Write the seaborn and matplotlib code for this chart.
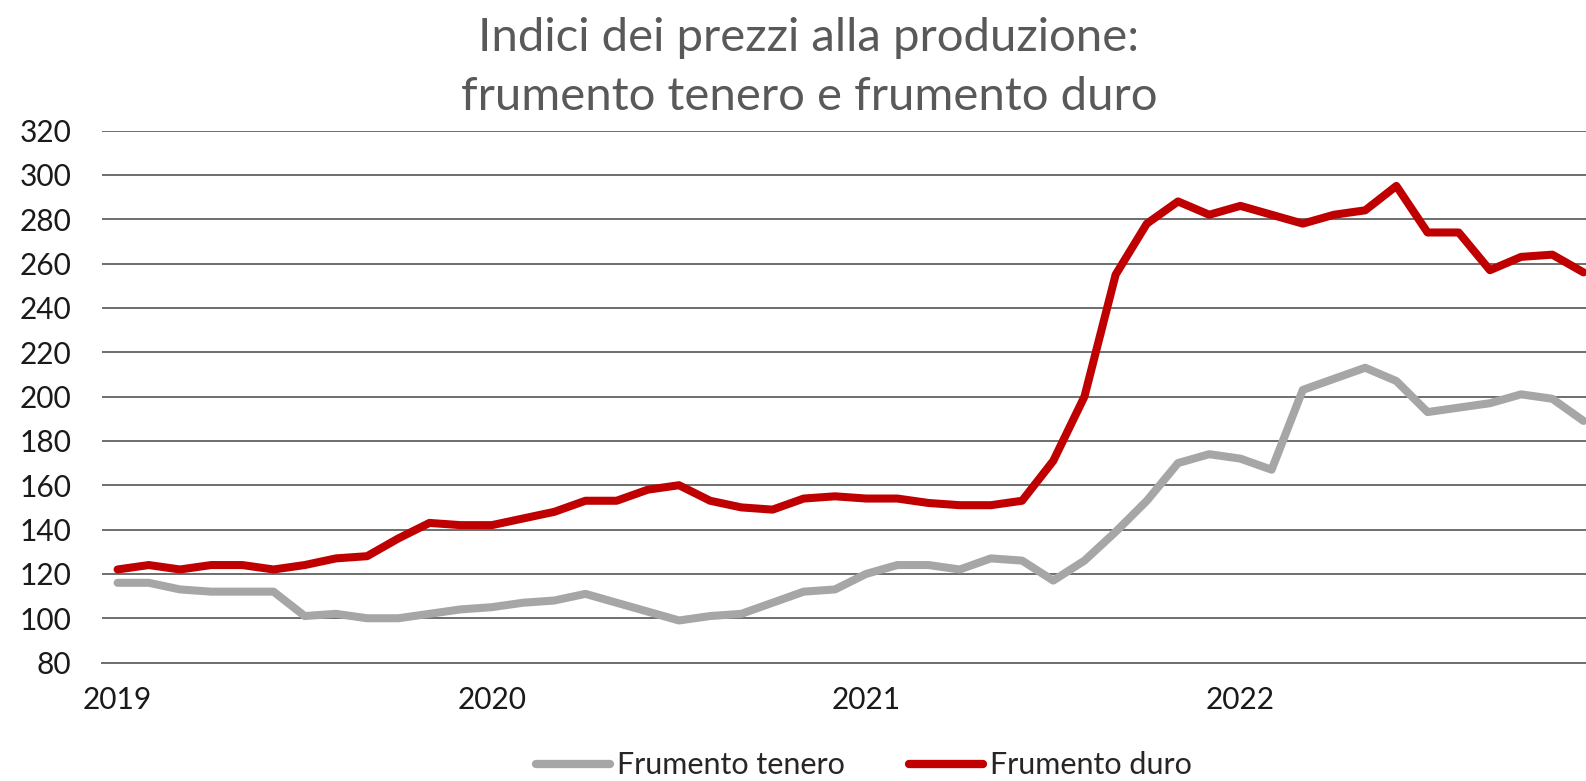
import pandas as pd
import matplotlib
matplotlib.use("Agg")
import matplotlib.pyplot as plt
import seaborn as sns
from matplotlib.lines import Line2D
from matplotlib.ticker import FixedLocator, NullFormatter, FixedFormatter

# monthly indices Jan 2019 - Dec 2022
mesi = list(range(48))
anni = ["2019", "2020", "2021", "2022"]

tenero = [116, 116, 113, 112, 112, 112, 101, 102, 100, 100, 102, 104,
          105, 107, 108, 111, 107, 103, 99, 101, 102, 107, 112, 113,
          120, 124, 124, 122, 127, 126, 117, 126, 139, 153, 170, 174,
          172, 167, 203, 208, 213, 207, 193, 195, 197, 201, 199, 189]

duro = [122, 124, 122, 124, 124, 122, 124, 127, 128, 136, 143, 142,
        142, 145, 148, 153, 153, 158, 160, 153, 150, 149, 154, 155,
        154, 154, 152, 151, 151, 153, 171, 200, 255, 278, 288, 282,
        286, 282, 278, 282, 284, 295, 274, 274, 257, 263, 264, 256]

serie = ["Frumento tenero", "Frumento duro"]
colori = {"Frumento tenero": "#A6A6A6", "Frumento duro": "#C00000"}

df = pd.DataFrame({
    "mese": mesi * 2,
    "valore": tenero + duro,
    "serie": [serie[0]] * 48 + [serie[1]] * 48,
})

sns.set_style("white")
plt.rcParams["font.family"] = ["Lato", "DejaVu Sans"]

fig = plt.figure(figsize=(15.86, 7.81), dpi=100)
ax = fig.add_axes([0.0643, 0.1516, 0.9357, 0.6813])

sns.lineplot(data=df, x="mese", y="valore", hue="serie", palette=colori,
             linewidth=5.8, ax=ax, legend=False, solid_capstyle="round")

ax.set_ylim(80, 320)
ax.set_yticks(range(80, 321, 20))
ax.set_xlim(-0.5, 47.08)
ax.yaxis.grid(True, color="#6e6e6e", linewidth=1.4)
ax.set_axisbelow(True)
for s in ["top", "right", "left"]:
    ax.spines[s].set_visible(False)
ax.spines["bottom"].set_color("#6e6e6e")
ax.spines["bottom"].set_linewidth(1.4)

# year boundaries as tick marks, labels centred on January
ax.xaxis.set_major_locator(FixedLocator([-0.5, 11.5, 23.5, 35.5]))
ax.xaxis.set_major_formatter(NullFormatter())
ax.xaxis.set_minor_locator(FixedLocator([0, 12, 24, 36]))
ax.xaxis.set_minor_formatter(FixedFormatter(anni))
ax.tick_params(axis="x", which="major", length=10, width=1.4, color="#6e6e6e", direction="out")
ax.tick_params(axis="x", which="minor", length=0, pad=17, labelsize=21.5, labelcolor="#1a1a1a")
ax.tick_params(axis="y", length=0, pad=22, labelsize=21.5, labelcolor="#1a1a1a")
ax.set_xlabel("")
ax.set_ylabel("")

fig.text(0.510, 0.978, "Indici dei prezzi alla produzione:\nfrumento tenero e frumento duro",
         ha="center", va="top", fontsize=34, color="#595959", linespacing=1.48)

handles = [Line2D([], [], color=colori[s], linewidth=6, solid_capstyle="round") for s in serie]
fig.legend(handles, serie, loc="center", bbox_to_anchor=(0.545, 0.02), ncol=2,
           frameon=False, fontsize=22, handlelength=2.4, handletextpad=0.25,
           columnspacing=2.1)

fig.savefig("out.png", dpi=100)
